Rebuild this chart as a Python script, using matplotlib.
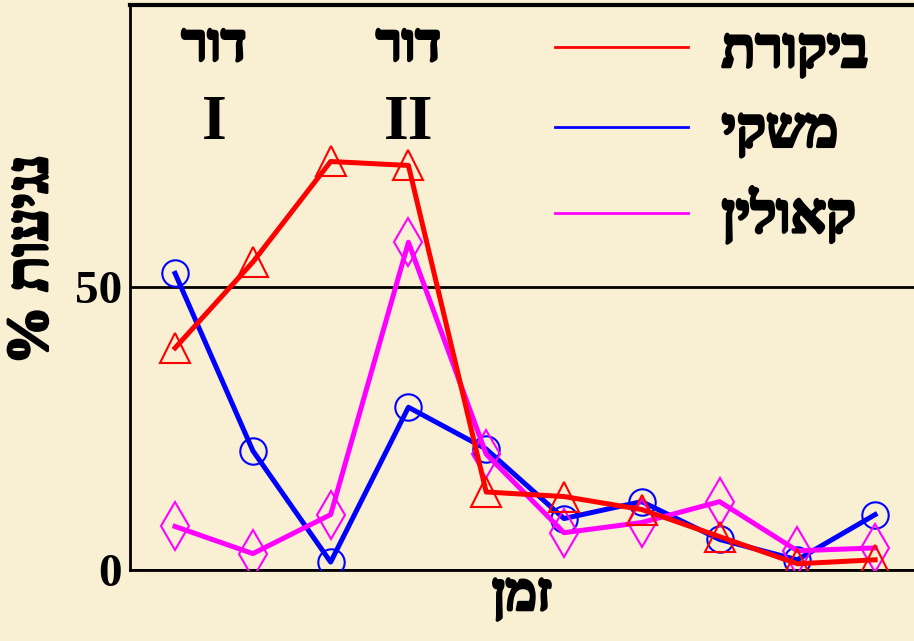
import numpy as np
import matplotlib.pyplot as plt
import matplotlib.patheffects as pe

# data (10 time points)
time = np.arange(1, 11)
control = [39.3, 54.5, 72.3, 71.6, 13.8, 13.0, 10.7, 5.9, 1.1, 1.8]
mashki = [52.5, 21.1, 1.4, 28.8, 21.4, 9.1, 12.1, 5.4, 1.8, 9.8]
kaolin = [7.7, 2.9, 9.8, 58.0, 20.5, 6.6, 8.4, 12.1, 3.4, 3.9]
series_names = ['ביקורת', 'משקי', 'קאולין']
yticks = [0, 50, 100]
ytick_labels = ['0', '50', '']
xlabel = 'זמן'
ylabel = 'נגיעות %'
gen_word = 'דור'
gens = ['I', 'II']
gen_x = [1.5, 4.0]

def heb(s):
    # matplotlib has no bidi support, so give it the visual order
    return s[::-1]

bg = '#f9efd3'
hfont = ['Liberation Serif', 'DejaVu Serif', 'DejaVu Sans']
# Hebrew glyphs come out thin, thicken them with a stroke
thick = [pe.withStroke(linewidth=2.2, foreground='black')]

fig = plt.figure(figsize=(9.14, 6.41), dpi=100)
fig.patch.set_facecolor(bg)
ax = fig.add_axes([0.1422, 0.1108, 0.8578, 0.8814])
ax.set_facecolor(bg)

ax.plot(time, mashki, color='#0000ff', lw=3.6, marker='o', ms=19,
        mfc='none', mec='#0000ff', mew=1.5, label=heb(series_names[1]), zorder=3)
ax.plot(time, kaolin, color='#ff00ff', lw=3.6, marker='d', ms=24,
        mfc='none', mec='#ff00ff', mew=1.5, label=heb(series_names[2]), zorder=4)
ax.plot(time, control, color='#ff0000', lw=3.6, marker='^', ms=22,
        mfc='none', mec='#ff0000', mew=1.5, label=heb(series_names[0]), zorder=5)

ax.set_xlim(0.42, 10.5)
ax.set_ylim(0, 100)
ax.set_yticks(yticks)
ax.set_yticklabels(ytick_labels, fontsize=34, fontweight='bold', family=hfont)
ax.tick_params(axis='y', length=0, pad=6)
ax.set_xticks([])
ax.grid(axis='y', color='black', lw=2)
for s in ['top', 'right']:
    ax.spines[s].set_visible(False)
ax.spines['left'].set_linewidth(2)
ax.spines['bottom'].set_linewidth(2)
ax.axhline(100, color='black', lw=3, clip_on=False)

xl = ax.set_xlabel(heb(xlabel), fontsize=38, fontweight='bold', family=hfont, labelpad=2)
xl.set_path_effects(thick)
fig.text(0.036, 0.595, heb(ylabel), rotation=90, fontsize=42, fontweight='bold',
         family=hfont, ha='center', va='center', path_effects=thick)

for gx, g in zip(gen_x, gens):
    ax.text(gx, 92.5, heb(gen_word), fontsize=38, fontweight='bold', family=hfont,
            ha='center', va='center', path_effects=thick)
    ax.text(gx, 79.0, g, fontsize=46, fontweight='bold', family=hfont,
            ha='center', va='center')

h, l = ax.get_legend_handles_labels()
order = [2, 0, 1]
leg = ax.legend([h[i] for i in order], [l[i] for i in order], loc='upper right',
                bbox_to_anchor=(1.005, 1.05), frameon=False,
                prop={'family': hfont, 'size': 40, 'weight': 'bold'},
                handlelength=2.4, handletextpad=0.6, labelspacing=0.5)
for line in leg.get_lines():
    line.set_marker('')
    line.set_linewidth(2)
for t in leg.get_texts():
    t.set_path_effects(thick)

fig.savefig('out.png', dpi=100, facecolor=bg)
